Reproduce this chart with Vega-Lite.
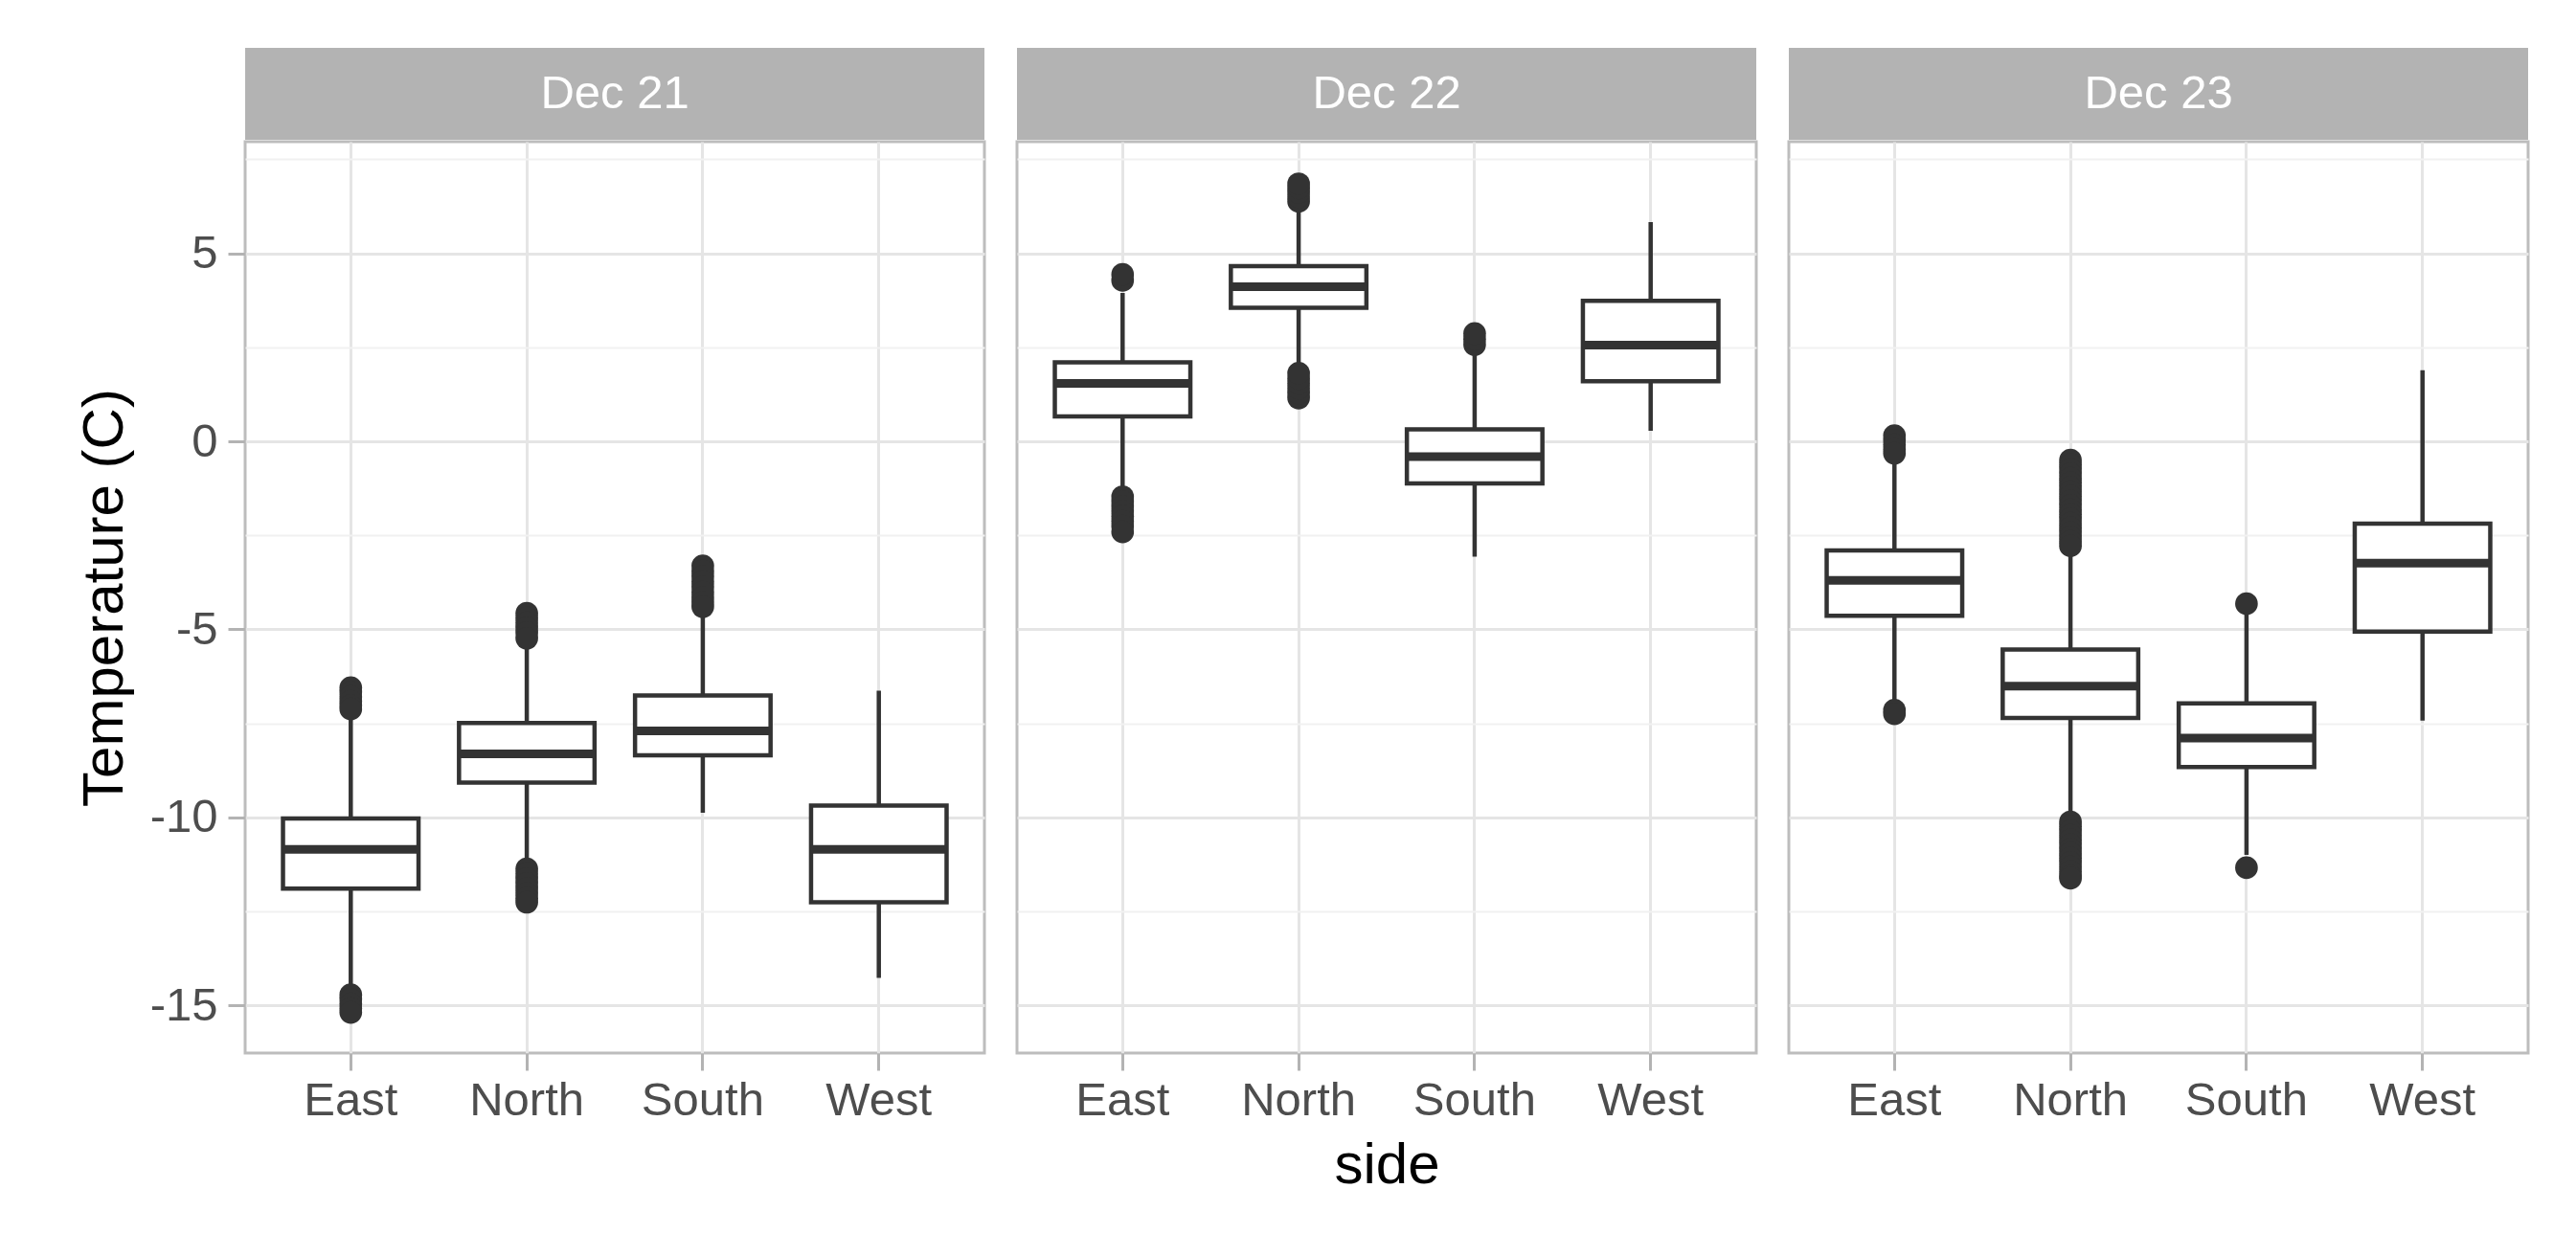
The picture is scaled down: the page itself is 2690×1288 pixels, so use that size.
{
  "$schema": "https://vega.github.io/schema/vega-lite/v6.json",
  "background": "white",
  "padding": {"left": 77, "top": 50, "right": 40, "bottom": 10},
  "datasets": {
    "days": [{"day": "Dec 21"}, {"day": "Dec 22"}, {"day": "Dec 23"}],
    "boxes": [
      {"day": "Dec 21", "side": "East", "lower": -14.5, "q1": -11.9, "median": -10.85, "q3": -10.03, "upper": -7.3},
      {"day": "Dec 21", "side": "North", "lower": -11.2, "q1": -9.08, "median": -8.31, "q3": -7.49, "upper": -5.4},
      {"day": "Dec 21", "side": "South", "lower": -9.88, "q1": -8.35, "median": -7.7, "q3": -6.76, "upper": -4.6},
      {"day": "Dec 21", "side": "West", "lower": -14.27, "q1": -12.26, "median": -10.85, "q3": -9.69, "upper": -6.63},
      {"day": "Dec 22", "side": "East", "lower": -1.3, "q1": 0.66, "median": 1.54, "q3": 2.1, "upper": 3.95},
      {"day": "Dec 22", "side": "North", "lower": 2.0, "q1": 3.55, "median": 4.11, "q3": 4.66, "upper": 6.2},
      {"day": "Dec 22", "side": "South", "lower": -3.07, "q1": -1.12, "median": -0.41, "q3": 0.32, "upper": 2.4},
      {"day": "Dec 22", "side": "West", "lower": 0.28, "q1": 1.6, "median": 2.56, "q3": 3.74, "upper": 5.83},
      {"day": "Dec 23", "side": "East", "lower": -7.0, "q1": -4.64, "median": -3.7, "q3": -2.9, "upper": -0.5},
      {"day": "Dec 23", "side": "North", "lower": -9.95, "q1": -7.36, "median": -6.51, "q3": -5.54, "upper": -2.95},
      {"day": "Dec 23", "side": "South", "lower": -11.0, "q1": -8.66, "median": -7.89, "q3": -6.97, "upper": -4.6},
      {"day": "Dec 23", "side": "West", "lower": -7.43, "q1": -5.06, "median": -3.24, "q3": -2.19, "upper": 1.89}
    ],
    "outliers": [
      {"day": "Dec 21", "side": "East", "temp": -6.55},
      {"day": "Dec 21", "side": "East", "temp": -6.67},
      {"day": "Dec 21", "side": "East", "temp": -6.79},
      {"day": "Dec 21", "side": "East", "temp": -6.91},
      {"day": "Dec 21", "side": "East", "temp": -7.03},
      {"day": "Dec 21", "side": "East", "temp": -7.12},
      {"day": "Dec 21", "side": "East", "temp": -14.72},
      {"day": "Dec 21", "side": "East", "temp": -14.84},
      {"day": "Dec 21", "side": "East", "temp": -14.96},
      {"day": "Dec 21", "side": "East", "temp": -15.08},
      {"day": "Dec 21", "side": "East", "temp": -15.19},
      {"day": "Dec 21", "side": "North", "temp": -4.57},
      {"day": "Dec 21", "side": "North", "temp": -4.7},
      {"day": "Dec 21", "side": "North", "temp": -4.83},
      {"day": "Dec 21", "side": "North", "temp": -4.96},
      {"day": "Dec 21", "side": "North", "temp": -5.09},
      {"day": "Dec 21", "side": "North", "temp": -5.24},
      {"day": "Dec 21", "side": "North", "temp": -11.37},
      {"day": "Dec 21", "side": "North", "temp": -11.5},
      {"day": "Dec 21", "side": "North", "temp": -11.63},
      {"day": "Dec 21", "side": "North", "temp": -11.76},
      {"day": "Dec 21", "side": "North", "temp": -11.89},
      {"day": "Dec 21", "side": "North", "temp": -12.02},
      {"day": "Dec 21", "side": "North", "temp": -12.15},
      {"day": "Dec 21", "side": "North", "temp": -12.26},
      {"day": "Dec 21", "side": "South", "temp": -3.31},
      {"day": "Dec 21", "side": "South", "temp": -3.45},
      {"day": "Dec 21", "side": "South", "temp": -3.59},
      {"day": "Dec 21", "side": "South", "temp": -3.73},
      {"day": "Dec 21", "side": "South", "temp": -3.87},
      {"day": "Dec 21", "side": "South", "temp": -4.01},
      {"day": "Dec 21", "side": "South", "temp": -4.15},
      {"day": "Dec 21", "side": "South", "temp": -4.28},
      {"day": "Dec 21", "side": "South", "temp": -4.4},
      {"day": "Dec 22", "side": "East", "temp": 4.28},
      {"day": "Dec 22", "side": "East", "temp": 4.44},
      {"day": "Dec 22", "side": "East", "temp": -1.47},
      {"day": "Dec 22", "side": "East", "temp": -1.6},
      {"day": "Dec 22", "side": "East", "temp": -1.73},
      {"day": "Dec 22", "side": "East", "temp": -1.86},
      {"day": "Dec 22", "side": "East", "temp": -1.99},
      {"day": "Dec 22", "side": "East", "temp": -2.12},
      {"day": "Dec 22", "side": "East", "temp": -2.25},
      {"day": "Dec 22", "side": "East", "temp": -2.41},
      {"day": "Dec 22", "side": "North", "temp": 6.38},
      {"day": "Dec 22", "side": "North", "temp": 6.5},
      {"day": "Dec 22", "side": "North", "temp": 6.62},
      {"day": "Dec 22", "side": "North", "temp": 6.74},
      {"day": "Dec 22", "side": "North", "temp": 6.85},
      {"day": "Dec 22", "side": "North", "temp": 1.15},
      {"day": "Dec 22", "side": "North", "temp": 1.28},
      {"day": "Dec 22", "side": "North", "temp": 1.41},
      {"day": "Dec 22", "side": "North", "temp": 1.54},
      {"day": "Dec 22", "side": "North", "temp": 1.67},
      {"day": "Dec 22", "side": "North", "temp": 1.81},
      {"day": "Dec 22", "side": "South", "temp": 2.57},
      {"day": "Dec 22", "side": "South", "temp": 2.72},
      {"day": "Dec 22", "side": "South", "temp": 2.87},
      {"day": "Dec 23", "side": "East", "temp": 0.15},
      {"day": "Dec 23", "side": "East", "temp": 0.03},
      {"day": "Dec 23", "side": "East", "temp": -0.09},
      {"day": "Dec 23", "side": "East", "temp": -0.21},
      {"day": "Dec 23", "side": "East", "temp": -0.32},
      {"day": "Dec 23", "side": "East", "temp": -7.15},
      {"day": "Dec 23", "side": "East", "temp": -7.25},
      {"day": "Dec 23", "side": "North", "temp": -0.5},
      {"day": "Dec 23", "side": "North", "temp": -0.62},
      {"day": "Dec 23", "side": "North", "temp": -0.74},
      {"day": "Dec 23", "side": "North", "temp": -0.86},
      {"day": "Dec 23", "side": "North", "temp": -0.98},
      {"day": "Dec 23", "side": "North", "temp": -1.1},
      {"day": "Dec 23", "side": "North", "temp": -1.22},
      {"day": "Dec 23", "side": "North", "temp": -1.34},
      {"day": "Dec 23", "side": "North", "temp": -1.46},
      {"day": "Dec 23", "side": "North", "temp": -1.58},
      {"day": "Dec 23", "side": "North", "temp": -1.7},
      {"day": "Dec 23", "side": "North", "temp": -1.82},
      {"day": "Dec 23", "side": "North", "temp": -1.94},
      {"day": "Dec 23", "side": "North", "temp": -2.06},
      {"day": "Dec 23", "side": "North", "temp": -2.18},
      {"day": "Dec 23", "side": "North", "temp": -2.3},
      {"day": "Dec 23", "side": "North", "temp": -2.42},
      {"day": "Dec 23", "side": "North", "temp": -2.54},
      {"day": "Dec 23", "side": "North", "temp": -2.66},
      {"day": "Dec 23", "side": "North", "temp": -2.78},
      {"day": "Dec 23", "side": "North", "temp": -10.12},
      {"day": "Dec 23", "side": "North", "temp": -10.24},
      {"day": "Dec 23", "side": "North", "temp": -10.36},
      {"day": "Dec 23", "side": "North", "temp": -10.48},
      {"day": "Dec 23", "side": "North", "temp": -10.6},
      {"day": "Dec 23", "side": "North", "temp": -10.72},
      {"day": "Dec 23", "side": "North", "temp": -10.84},
      {"day": "Dec 23", "side": "North", "temp": -10.96},
      {"day": "Dec 23", "side": "North", "temp": -11.08},
      {"day": "Dec 23", "side": "North", "temp": -11.2},
      {"day": "Dec 23", "side": "North", "temp": -11.32},
      {"day": "Dec 23", "side": "North", "temp": -11.44},
      {"day": "Dec 23", "side": "North", "temp": -11.56},
      {"day": "Dec 23", "side": "North", "temp": -11.62},
      {"day": "Dec 23", "side": "South", "temp": -4.32},
      {"day": "Dec 23", "side": "South", "temp": -11.34}
    ]
  },
  "hconcat": [
    {
      "spacing": 0,
      "vconcat": [
        {
          "data": {"name": "days"},
          "transform": [{"filter": "datum.day === 'Dec 21'"}],
          "width": 772, "height": 96,
          "view": {"fill": "#B3B3B3", "stroke": null},
          "mark": {"type": "text", "color": "white", "fontSize": 49, "font": "Liberation Sans"},
          "encoding": {"text": {"field": "day"}}
        },
        {
          "width": 772, "height": 952,
          "encoding": {
            "x": {"field": "side", "type": "nominal",
                  "scale": {"domain": ["East", "North", "South", "West"], "paddingInner": 0, "paddingOuter": 0.1},
                  "axis": {"title": null, "bandPosition": 0.5, "labelAngle": 0}}
          },
          "layer": [
            {
              "data": {"name": "boxes"},
              "transform": [{"filter": "datum.day === 'Dec 21'"}],
              "mark": {"type": "rule", "color": "#333333", "strokeWidth": 4.5},
              "encoding": {
                "y": {"field": "lower", "type": "quantitative",
                      "scale": {"domain": [-16.27, 7.97], "nice": false, "zero": false},
                      "axis": {"title": "Temperature (C)",
                               "values": [-15, -12.5, -10, -7.5, -5, -2.5, 0, 2.5, 5, 7.5],
                               "labelExpr": "datum.value % 5 === 0 ? '' + datum.value : ''",
                               "labelFontSize": {"condition": {"test": "datum.value % 5 === 0", "value": 49}, "value": 1},
                               "labelOverlap": false,
                               "tickOpacity": {"condition": {"test": "datum.value % 5 === 0", "value": 1}, "value": 0},
                               "gridColor": {"condition": {"test": "datum.value % 5 === 0", "value": "#E5E5E5"}, "value": "#F1F1F1"},
                               "gridWidth": {"condition": {"test": "datum.value % 5 === 0", "value": 3}, "value": 2},
                               "labelPadding": 11, "titlePadding": 16}},
                "y2": {"field": "upper"}
              }
            },
            {
              "data": {"name": "boxes"},
              "transform": [{"filter": "datum.day === 'Dec 21'"}],
              "mark": {"type": "bar", "fill": "white", "stroke": "#333333", "strokeWidth": 4.5, "width": {"band": 0.77}},
              "encoding": {
                "y": {"field": "q1", "type": "quantitative", "scale": {"domain": [-16.27, 7.97], "nice": false, "zero": false}},
                "y2": {"field": "q3"}
              }
            },
            {
              "data": {"name": "boxes"},
              "transform": [{"filter": "datum.day === 'Dec 21'"}],
              "mark": {"type": "tick", "color": "#333333", "thickness": 9, "size": 142, "orient": "horizontal", "opacity": 1},
              "encoding": {
                "y": {"field": "median", "type": "quantitative", "scale": {"domain": [-16.27, 7.97], "nice": false, "zero": false}}
              }
            },
            {
              "data": {"name": "outliers"},
              "transform": [{"filter": "datum.day === 'Dec 21'"}],
              "mark": {"type": "circle", "color": "#333333", "size": 560, "opacity": 1},
              "encoding": {
                "y": {"field": "temp", "type": "quantitative", "scale": {"domain": [-16.27, 7.97], "nice": false, "zero": false}}
              }
            }
          ]
        }
      ]
    },
    {
      "spacing": 0,
      "vconcat": [
        {
          "data": {"name": "days"},
          "transform": [{"filter": "datum.day === 'Dec 22'"}],
          "width": 772, "height": 96,
          "view": {"fill": "#B3B3B3", "stroke": null},
          "mark": {"type": "text", "color": "white", "fontSize": 49, "font": "Liberation Sans"},
          "encoding": {"text": {"field": "day"}}
        },
        {
          "width": 772, "height": 952,
          "encoding": {
            "x": {"field": "side", "type": "nominal",
                  "scale": {"domain": ["East", "North", "South", "West"], "paddingInner": 0, "paddingOuter": 0.1},
                  "axis": {"title": "side", "bandPosition": 0.5, "labelAngle": 0}}
          },
          "layer": [
            {
              "data": {"name": "boxes"},
              "transform": [{"filter": "datum.day === 'Dec 22'"}],
              "mark": {"type": "rule", "color": "#333333", "strokeWidth": 4.5},
              "encoding": {
                "y": {"field": "lower", "type": "quantitative",
                      "scale": {"domain": [-16.27, 7.97], "nice": false, "zero": false},
                      "axis": {"title": null,
                               "values": [-15, -12.5, -10, -7.5, -5, -2.5, 0, 2.5, 5, 7.5],
                               "labels": false, "ticks": false, "minExtent": 0,
                               "gridColor": {"condition": {"test": "datum.value % 5 === 0", "value": "#E5E5E5"}, "value": "#F1F1F1"},
                               "gridWidth": {"condition": {"test": "datum.value % 5 === 0", "value": 3}, "value": 2}}},
                "y2": {"field": "upper"}
              }
            },
            {
              "data": {"name": "boxes"},
              "transform": [{"filter": "datum.day === 'Dec 22'"}],
              "mark": {"type": "bar", "fill": "white", "stroke": "#333333", "strokeWidth": 4.5, "width": {"band": 0.77}},
              "encoding": {
                "y": {"field": "q1", "type": "quantitative", "scale": {"domain": [-16.27, 7.97], "nice": false, "zero": false}},
                "y2": {"field": "q3"}
              }
            },
            {
              "data": {"name": "boxes"},
              "transform": [{"filter": "datum.day === 'Dec 22'"}],
              "mark": {"type": "tick", "color": "#333333", "thickness": 9, "size": 142, "orient": "horizontal", "opacity": 1},
              "encoding": {
                "y": {"field": "median", "type": "quantitative", "scale": {"domain": [-16.27, 7.97], "nice": false, "zero": false}}
              }
            },
            {
              "data": {"name": "outliers"},
              "transform": [{"filter": "datum.day === 'Dec 22'"}],
              "mark": {"type": "circle", "color": "#333333", "size": 560, "opacity": 1},
              "encoding": {
                "y": {"field": "temp", "type": "quantitative", "scale": {"domain": [-16.27, 7.97], "nice": false, "zero": false}}
              }
            }
          ]
        }
      ]
    },
    {
      "spacing": 0,
      "vconcat": [
        {
          "data": {"name": "days"},
          "transform": [{"filter": "datum.day === 'Dec 23'"}],
          "width": 772, "height": 96,
          "view": {"fill": "#B3B3B3", "stroke": null},
          "mark": {"type": "text", "color": "white", "fontSize": 49, "font": "Liberation Sans"},
          "encoding": {"text": {"field": "day"}}
        },
        {
          "width": 772, "height": 952,
          "encoding": {
            "x": {"field": "side", "type": "nominal",
                  "scale": {"domain": ["East", "North", "South", "West"], "paddingInner": 0, "paddingOuter": 0.1},
                  "axis": {"title": null, "bandPosition": 0.5, "labelAngle": 0}}
          },
          "layer": [
            {
              "data": {"name": "boxes"},
              "transform": [{"filter": "datum.day === 'Dec 23'"}],
              "mark": {"type": "rule", "color": "#333333", "strokeWidth": 4.5},
              "encoding": {
                "y": {"field": "lower", "type": "quantitative",
                      "scale": {"domain": [-16.27, 7.97], "nice": false, "zero": false},
                      "axis": {"title": null,
                               "values": [-15, -12.5, -10, -7.5, -5, -2.5, 0, 2.5, 5, 7.5],
                               "labels": false, "ticks": false, "minExtent": 0,
                               "gridColor": {"condition": {"test": "datum.value % 5 === 0", "value": "#E5E5E5"}, "value": "#F1F1F1"},
                               "gridWidth": {"condition": {"test": "datum.value % 5 === 0", "value": 3}, "value": 2}}},
                "y2": {"field": "upper"}
              }
            },
            {
              "data": {"name": "boxes"},
              "transform": [{"filter": "datum.day === 'Dec 23'"}],
              "mark": {"type": "bar", "fill": "white", "stroke": "#333333", "strokeWidth": 4.5, "width": {"band": 0.77}},
              "encoding": {
                "y": {"field": "q1", "type": "quantitative", "scale": {"domain": [-16.27, 7.97], "nice": false, "zero": false}},
                "y2": {"field": "q3"}
              }
            },
            {
              "data": {"name": "boxes"},
              "transform": [{"filter": "datum.day === 'Dec 23'"}],
              "mark": {"type": "tick", "color": "#333333", "thickness": 9, "size": 142, "orient": "horizontal", "opacity": 1},
              "encoding": {
                "y": {"field": "median", "type": "quantitative", "scale": {"domain": [-16.27, 7.97], "nice": false, "zero": false}}
              }
            },
            {
              "data": {"name": "outliers"},
              "transform": [{"filter": "datum.day === 'Dec 23'"}],
              "mark": {"type": "circle", "color": "#333333", "size": 560, "opacity": 1},
              "encoding": {
                "y": {"field": "temp", "type": "quantitative", "scale": {"domain": [-16.27, 7.97], "nice": false, "zero": false}}
              }
            }
          ]
        }
      ]
    }
  ],
  "spacing": 30,
  "config": {
    "font": "Liberation Sans",
    "view": {"stroke": "#BDBDBD", "strokeWidth": 3},
    "axis": {
      "labelFont": "Liberation Sans", "labelFontSize": 49, "labelColor": "#4D4D4D",
      "tickColor": "#B3B3B3", "tickWidth": 3, "tickSize": 18,
      "domain": false, "grid": true, "gridColor": "#E5E5E5", "gridWidth": 3,
      "titleFont": "Liberation Sans", "titleFontSize": 60, "titleFontWeight": "normal", "titleColor": "black",
      "labelOverlap": false
    },
    "axisX": {"labelPadding": 7, "titlePadding": 14}
  }
}
